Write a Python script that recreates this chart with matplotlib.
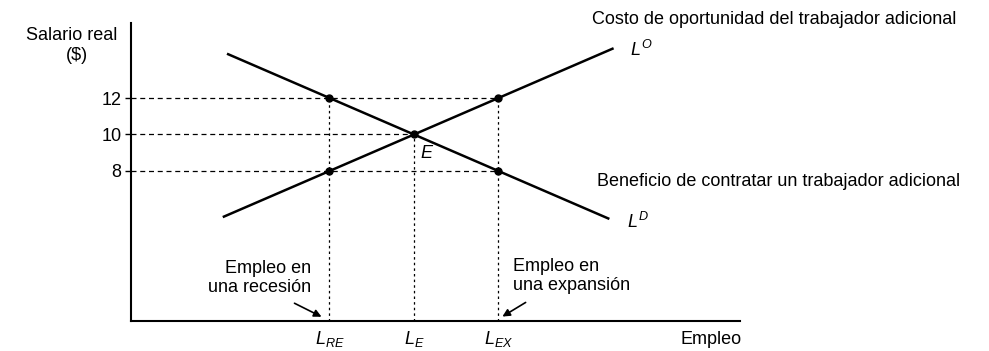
import matplotlib
matplotlib.use("Agg")
import matplotlib.pyplot as plt

# ---- data ----
employment_points = [8, 10, 12]          # L_RE, L_E, L_EX
employment_labels = ["$L_{RE}$", "$L_{E}$", "$L_{EX}$"]
wage_ticks = [8, 10, 12]
wage_tick_labels = ["8", "10", "12"]

demand_L = [5.6, 8, 10, 12, 14.6]        # L^D: benefit of hiring
demand_w = [14.4, 12, 10, 8, 5.4]
supply_L = [5.5, 8, 10, 12, 14.7]        # L^O: opportunity cost
supply_w = [5.5, 8, 10, 12, 14.7]

point_L = [8, 8, 10, 12, 12]
point_w = [12, 8, 10, 12, 8]

# horizontal guides: (wage, employment end)
h_guides_w = [12, 10, 8]
h_guides_L = [12, 10, 12]
# vertical guides: (employment, wage top)
v_guides_L = [8, 10, 12]
v_guides_w = [12, 10, 12]

plt.rcParams['font.family'] = ['Liberation Sans', 'DejaVu Sans']
plt.rcParams['mathtext.fontset'] = 'custom'
plt.rcParams['mathtext.it'] = 'Liberation Sans:italic'
plt.rcParams['mathtext.rm'] = 'Liberation Sans'

W, H = 989, 351
fig = plt.figure(figsize=(W / 100, H / 100), dpi=100)

def px(x, y):
    return x / W, 1 - y / H

ax = fig.add_axes([131 / W, (H - 321) / H, (740 - 131) / W, (321 - 23) / H])
ax.set_xlim(3.30, 17.72)
ax.set_ylim(-0.22, 16.11)

for s in ["top", "right"]:
    ax.spines[s].set_visible(False)
for s in ["left", "bottom"]:
    ax.spines[s].set_linewidth(1.5)
    ax.spines[s].set_color("black")

ax.set_yticks(wage_ticks, wage_tick_labels, fontsize=13)
ax.tick_params(axis="y", length=4, width=1, pad=3)
ax.set_xticks(employment_points, employment_labels, fontsize=13)
ax.tick_params(axis="x", length=0, pad=6)

# guides
for w, L in zip(h_guides_w, h_guides_L):
    ax.plot([3.30, L], [w, w], color="black", lw=0.9, ls=(0, (4, 3)), clip_on=False)
for L, w in zip(v_guides_L, v_guides_w):
    ax.plot([L, L], [-0.22, w], color="black", lw=0.9, ls=(0, (2, 2.5)))

# curves
ax.plot(demand_L, demand_w, color="black", lw=1.8)
ax.plot(supply_L, supply_w, color="black", lw=1.8)
ax.plot(point_L, point_w, "o", color="black", ms=5)

# labels
fs = 13
fig.text(*px(72, 36), "Salario real", ha="center", va="center", fontsize=fs)
fig.text(*px(77, 55), "($)", ha="center", va="center", fontsize=fs)
fig.text(*px(592, 19), "Costo de oportunidad del trabajador adicional", ha="left", va="center", fontsize=fs)
fig.text(*px(597, 182), "Beneficio de contratar un trabajador adicional", ha="left", va="center", fontsize=fs)
fig.text(*px(630, 50), "$L^{O}$", ha="left", va="center", fontsize=13)
fig.text(*px(627, 222), "$L^{D}$", ha="left", va="center", fontsize=13)
fig.text(*px(420, 153), "$E$", ha="left", va="center", fontsize=13)
fig.text(*px(742, 339), "Empleo", ha="right", va="center", fontsize=fs)

fig.text(*px(311, 278), "Empleo en\nuna recesión", ha="right", va="center",
         fontsize=fs, linespacing=1.1, multialignment="right")
fig.text(*px(513, 276), "Empleo en\nuna expansión", ha="left", va="center",
         fontsize=fs, linespacing=1.1)

ax.annotate("", xy=px(324, 318), xytext=px(292, 302), xycoords="figure fraction",
            textcoords="figure fraction",
            arrowprops=dict(arrowstyle="-|>", color="black", lw=1.2, mutation_scale=11))
ax.annotate("", xy=px(500, 318), xytext=px(528, 301), xycoords="figure fraction",
            textcoords="figure fraction",
            arrowprops=dict(arrowstyle="-|>", color="black", lw=1.2, mutation_scale=11))

fig.savefig("out.png", dpi=100)
